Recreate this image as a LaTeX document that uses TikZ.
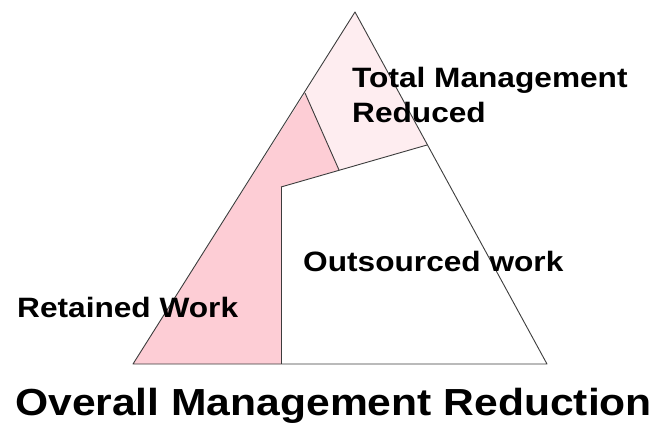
\documentclass[tikz,border=0pt]{standalone}
\usepackage{fontspec}
\newfontfamily\diagfont{Liberation Sans}[FakeStretch=1.13]
\definecolor{retainedpink}{RGB}{253,205,213}
\definecolor{reducedpink}{RGB}{254,237,240}
\definecolor{edgegray}{RGB}{60,60,60}
\tikzset{
  edge/.style={draw=edgegray, line width=0.9pt},
  label/.style={anchor=base west, inner sep=0pt, align=left, font=\diagfont\bfseries\fontsize{28}{35}\selectfont}
}
\begin{document}
\begin{tikzpicture}[x=1pt,y=-1pt]

    % Fix the page to the size of the picture
    \useasboundingbox (0,0) rectangle (656,423);

    % Corners of the main triangle
    \coordinate (A) at (355,12);
    \coordinate (L) at (133,364);
    \coordinate (R) at (547,364);

    % Points that split the triangle into three parts
    \coordinate (P) at (305,93);   % on the left side
    \coordinate (S) at (427,145);  % on the right side
    \coordinate (T) at (281,187);  % corner of the outsourced part
    \coordinate (Q) at (339,170);  % on the line T--S
    \coordinate (B) at (281,364);  % foot of the vertical line

    % Fill the three parts
    \fill[reducedpink] (A) -- (P) -- (Q) -- (S) -- cycle;
    \fill[retainedpink] (L) -- (P) -- (Q) -- (T) -- (B) -- cycle;
    \fill[white] (T) -- (S) -- (R) -- (B) -- cycle;

    % Dividing lines
    \draw[edge] (P) -- (Q);
    \draw[edge] (T) -- (S);
    \draw[edge] (T) -- (B);

    % Outline of the triangle
    \draw[edge, line join=round] (A) -- (L) -- (R) -- cycle;

    % Labels (base of a two-line node is its last line)
    \node[label] (reduced) at (352,122) {Total Management\\Reduced};
    \node[label] (outsourced) at (303,271) {Outsourced work};
    \node[label] (retained) at (17,317) {Retained Work};
    \node[label, font=\diagfont\bfseries\fontsize{37.7}{45}\selectfont] (title) at (15,415) {Overall Management Reduction};

\end{tikzpicture}
\end{document}
